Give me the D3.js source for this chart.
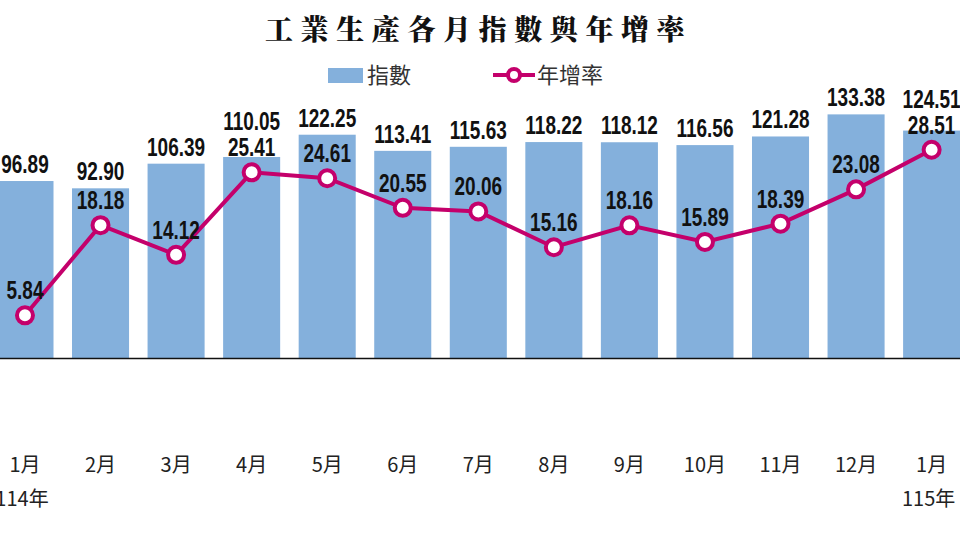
<!DOCTYPE html>
<html>
<head>
<meta charset="utf-8">
<script src="https://cdn.jsdelivr.net/npm/d3@7"></script>
<style>
  body { margin: 0; background: #fff; }
  svg { display: block; }
  .num { font-family: "Liberation Sans", Arial, sans-serif; font-weight: bold; font-size: 25px; fill: #111; }
  .cjk { font-family: "Noto Sans CJK TC", "Noto Sans", sans-serif; }
</style>
</head>
<body>
<div id="graph"></div>
<script>
const months = ["1月", "2月", "3月", "4月", "5月", "6月", "7月", "8月", "9月", "10月", "11月", "12月", "1月"];
const indexValues = [96.89, 92.90, 106.39, 110.05, 122.25, 113.41, 115.63, 118.22, 118.12, 116.56, 121.28, 133.38, 124.51];
const growthValues = [5.84, 18.18, 14.12, 25.41, 24.61, 20.55, 20.06, 15.16, 18.16, 15.89, 18.39, 23.08, 28.51];
const yearLabels = [{ i: 0, text: "114年" }, { i: 12, text: "115年" }];

const barColor = "#84b0dc";
const lineColor = "#c4006b";

renderGraph();

function renderGraph() {
    const width = 960;
    const height = 540;
    const baseY = 358;
    const squeeze = 0.76; // the numbers in the original use a condensed face

    const svg = d3.select("#graph")
        .append("svg")
        .attr("width", width)
        .attr("height", height);

    svg.append("rect").attr("width", width).attr("height", height).attr("fill", "#fff");

    // chart is cropped on both sides, so the band range runs past the edges
    const x = d3.scaleBand()
        .domain(d3.range(months.length))
        .range([-12.8, 969.4])
        .paddingInner(0.245)
        .paddingOuter(0.1225);

    const yBar = d3.scaleLinear().domain([0, 196]).range([baseY, 0]);
    const yRate = d3.scaleLinear().domain([0, 49]).range([baseY, 0]);
    const cx = i => x(i) + x.bandwidth() / 2;

    // bars
    svg.append("g")
        .attr("fill", barColor)
        .selectAll("rect")
        .data(indexValues)
        .join("rect")
          .attr("x", (d, i) => x(i))
          .attr("y", d => yBar(d))
          .attr("width", x.bandwidth())
          .attr("height", d => yBar(0) - yBar(d));

    // x axis
    const xAxis = svg.append("g")
        .attr("transform", `translate(0, ${baseY})`)
        .call(d3.axisBottom(x).tickSize(0).tickFormat(i => months[i]));
    xAxis.attr("font-family", "'Noto Sans CJK TC', sans-serif");
    xAxis.select(".domain").attr("stroke", "#111").attr("stroke-width", 1.5);
    xAxis.selectAll("text")
        .attr("class", "cjk")
        .attr("y", 114)
        .attr("dy", null)
        .attr("font-size", "20px")
        .attr("fill", "#222");

    svg.append("g")
        .selectAll("text")
        .data(yearLabels)
        .join("text")
          .attr("class", "cjk")
          .attr("x", d => cx(d.i) - 3)
          .attr("y", 506)
          .attr("text-anchor", "middle")
          .attr("font-size", "20px")
          .attr("fill", "#222")
          .text(d => d.text);

    // growth line
    const line = d3.line()
        .x((d, i) => cx(i))
        .y(d => yRate(d));

    svg.append("path")
        .datum(growthValues)
        .attr("fill", "none")
        .attr("stroke", lineColor)
        .attr("stroke-width", 4)
        .attr("d", line);

    svg.append("g")
        .selectAll("circle")
        .data(growthValues)
        .join("circle")
          .attr("cx", (d, i) => cx(i))
          .attr("cy", d => yRate(d))
          .attr("r", 8)
          .attr("fill", "#fff")
          .attr("stroke", lineColor)
          .attr("stroke-width", 4);

    // labels
    const rateBase = d => yRate(d) - 16;

    svg.append("g")
        .selectAll("text")
        .data(growthValues)
        .join("text")
          .attr("class", "num")
          .attr("transform", (d, i) => `translate(${cx(i)}, ${rateBase(d)}) scale(${squeeze}, 1)`)
          .attr("text-anchor", "middle")
          .text(d => d.toFixed(2));

    svg.append("g")
        .selectAll("text")
        .data(indexValues)
        .join("text")
          .attr("class", "num")
          .attr("transform", (d, i) => {
              const y = Math.min(yBar(d) - 8, rateBase(growthValues[i]) - 26);
              return `translate(${cx(i)}, ${y}) scale(${squeeze}, 1)`;
          })
          .attr("text-anchor", "middle")
          .text(d => d.toFixed(2));

    // title
    svg.append("text")
        .attr("x", 265)
        .attr("y", 40)
        .attr("font-family", "'Noto Serif CJK TC', 'Noto Sans CJK TC', serif")
        .attr("font-weight", "900")
        .attr("font-size", "28px")
        .attr("letter-spacing", "7.6px")
        .attr("fill", "#111")
        .text("工業生產各月指數與年增率");

    // legend
    const legend = svg.append("g").attr("class", "cjk").attr("font-size", "22px").attr("fill", "#333");
    legend.append("rect").attr("x", 328).attr("y", 68).attr("width", 35).attr("height", 15).attr("fill", barColor);
    legend.append("text").attr("x", 367).attr("y", 83).text("指數");
    legend.append("line").attr("x1", 493).attr("x2", 535).attr("y1", 75).attr("y2", 75)
        .attr("stroke", lineColor).attr("stroke-width", 4);
    legend.append("circle").attr("cx", 514).attr("cy", 75).attr("r", 6)
        .attr("fill", "#fff").attr("stroke", lineColor).attr("stroke-width", 4);
    legend.append("text").attr("x", 537).attr("y", 83).text("年增率");
}
</script>
</body>
</html>
